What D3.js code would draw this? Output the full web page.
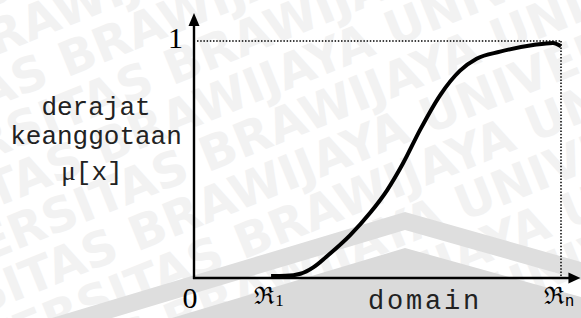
<!DOCTYPE html>
<html><head><meta charset="utf-8">
<script src="https://cdn.jsdelivr.net/npm/d3@7"></script>
<style>html,body{margin:0;padding:0;background:#fff;overflow:hidden}</style>
</head><body>
<svg id="chart" width="581" height="318"></svg>
<script>
// ---- data ----
const domainX    = [21, 25, 29, 32.5, 36, 42.5, 48, 52.6, 57, 61.6, 67, 72.5, 77, 83.4, 92.4, 97.8, 100];
const membership = [0.008, 0.009, 0.018, 0.045, 0.089, 0.18, 0.275, 0.37, 0.485, 0.625, 0.77, 0.875, 0.925, 0.955, 0.983, 0.992, 0.978];
const yTickValues = [0, 1];
const yTickLabels = ["0", "1"];
const xTickValues = [21, 100];
const xTickMain   = ["\u211C", "\u211C"];
const xTickSubs   = ["1", "n"];
const yTitleLines = ["derajat", "keanggotaan"];
const yTitleMu    = ["\u03BC", "[x]"];
const xTitle      = "domain";
const watermarkWords = "UNIVERSITAS BRAWIJAYA UNIVERSITAS BRAWIJAYA UNIVERSITAS";

const svg = d3.select("#chart");

// ---- background watermark (decoration) ----
const wm = svg.append("g").attr("transform", "rotate(-22 290 160)");
d3.range(-6, 9).forEach(i => {
  wm.append("text")
    .attr("x", -260 + (i % 2) * 95)
    .attr("y", i * 47)
    .attr("font-family", "DejaVu Sans")
    .attr("font-weight", "bold")
    .attr("font-size", 48)
    .attr("fill", "#f2f2f2")
    .text(watermarkWords);
});
const chev = svg.append("g");
chev.append("path").attr("fill", "#dedede")
  .attr("d", "M52,318 L405,212 L581,262 L581,280 L405,230 L112,318 Z");
chev.append("path").attr("fill", "#dadada")
  .attr("d", "M172,318 L405,248 L581,297 L581,318 Z");

// ---- scales ----
const x = d3.scaleLinear().domain([0, 100]).range([194, 561]);
const y = d3.scaleLinear().domain([0, 1]).range([278, 41]);
const xAxisEnd = 105.3, yAxisEnd = 1.118;

// dotted guides
svg.append("line")
  .attr("x1", x(0) + 3).attr("x2", x(100)).attr("y1", y(1)).attr("y2", y(1))
  .attr("stroke", "#000").attr("stroke-width", 1.5).attr("stroke-dasharray", "1.5,1.7");
svg.append("line")
  .attr("x1", x(100)).attr("x2", x(100)).attr("y1", y(1)).attr("y2", y(0))
  .attr("stroke", "#000").attr("stroke-width", 1.5).attr("stroke-dasharray", "1.5,1.7");

// axes with arrows
svg.append("line")
  .attr("x1", x(0)).attr("x2", x(0)).attr("y1", y(0) + 1).attr("y2", y(yAxisEnd) + 8)
  .attr("stroke", "#000").attr("stroke-width", 2.4);
svg.append("path")
  .attr("d", `M${x(0)},${y(yAxisEnd)} L${x(0) - 5.5},${y(yAxisEnd) + 13} L${x(0) + 5.5},${y(yAxisEnd) + 13} Z`)
  .attr("fill", "#000");
svg.append("line")
  .attr("x1", x(0) - 1).attr("x2", x(xAxisEnd) - 8).attr("y1", y(0)).attr("y2", y(0))
  .attr("stroke", "#000").attr("stroke-width", 2.4);
svg.append("path")
  .attr("d", `M${x(xAxisEnd)},${y(0)} L${x(xAxisEnd) - 12},${y(0) - 5.5} L${x(xAxisEnd) - 12},${y(0) + 5.5} Z`)
  .attr("fill", "#000");

// curve
const pts = domainX.map((d, i) => [d, membership[i]]);
svg.append("path")
  .datum(pts)
  .attr("fill", "none")
  .attr("stroke", "#000")
  .attr("stroke-width", 4)
  .attr("d", d3.line().x(d => x(d[0])).y(d => y(d[1])).curve(d3.curveMonotoneX));

// y tick labels (0 below origin, 1 beside top)
svg.append("text").attr("x", x(0) - 4).attr("y", y(0) + 30)
  .attr("text-anchor", "middle").attr("font-family", "Liberation Serif").attr("font-size", 30)
  .text(yTickLabels[0]);
svg.append("text").attr("x", x(0) - 11).attr("y", y(1) + 7)
  .attr("text-anchor", "end").attr("font-family", "Liberation Serif").attr("font-size", 30)
  .text(yTickLabels[1]);

// x tick labels
xTickValues.forEach((v, i) => {
  const t = svg.append("text").attr("x", x(v) - 2).attr("y", y(0) + 26)
    .attr("text-anchor", "middle");
  t.append("tspan").attr("font-family", "DejaVu Serif").attr("font-size", 24).text(xTickMain[i]);
  t.append("tspan").attr("font-family", i === 0 ? "Liberation Serif" : "DejaVu Sans Mono")
    .attr("font-size", i === 0 ? 17 : 16).attr("dx", 1).attr("dy", 2).text(xTickSubs[i]);
});

// y title
const yTitleY = [115, 144];
yTitleLines.forEach((s, i) => {
  svg.append("text").attr("x", 96).attr("y", yTitleY[i])
    .attr("text-anchor", "middle").attr("font-family", "Liberation Mono").attr("font-size", 26)
    .attr("fill", "#222").text(s);
});
const mu = svg.append("text").attr("x", 92).attr("y", 180).attr("text-anchor", "middle").attr("fill", "#222");
mu.append("tspan").attr("font-family", "Liberation Serif").attr("font-size", 27).text(yTitleMu[0]);
mu.append("tspan").attr("font-family", "Liberation Mono").attr("font-size", 26).text(yTitleMu[1]);

// x title
svg.append("text").attr("x", 425).attr("y", 309)
  .attr("text-anchor", "middle").attr("font-family", "Liberation Mono").attr("font-size", 27)
  .attr("letter-spacing", 2.8).attr("fill", "#222").text(xTitle);
</script>
</body></html>
